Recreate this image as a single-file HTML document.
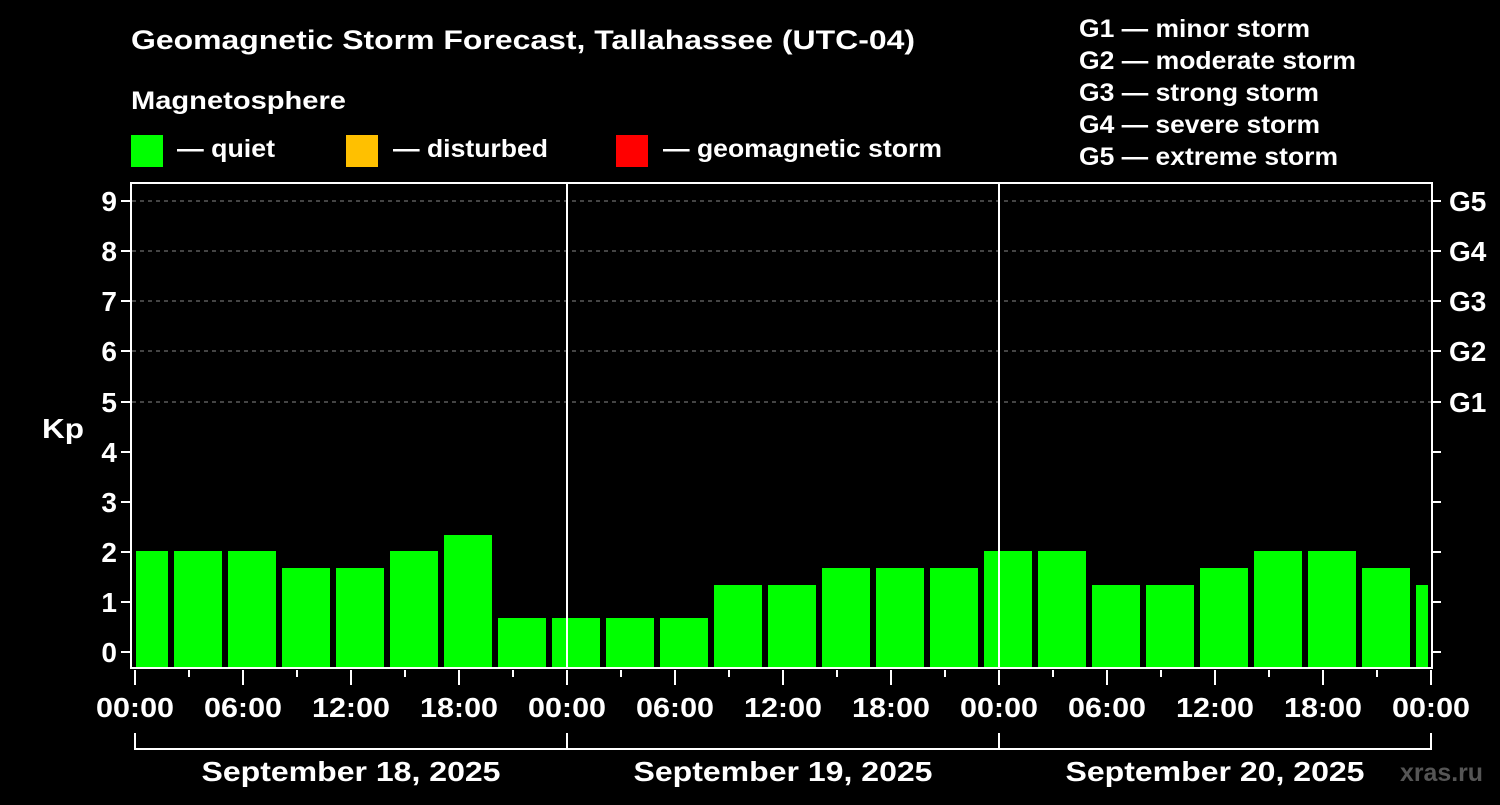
<!DOCTYPE html><html><head><style>body{margin:0;background:#000}svg text{font-family:"Liberation Sans",Arial,sans-serif;font-weight:bold;fill:#fff}</style></head><body>
<svg width="1500" height="800" xmlns="http://www.w3.org/2000/svg">
<rect width="1500" height="800" fill="#000"/>
<text x="131" y="49" font-size="27" textLength="784" lengthAdjust="spacingAndGlyphs">Geomagnetic Storm Forecast, Tallahassee (UTC-04)</text>
<text x="131" y="109" font-size="25" textLength="215" lengthAdjust="spacingAndGlyphs">Magnetosphere</text>
<rect x="131" y="135" width="32" height="32" fill="#00ff00"/><text x="177" y="157" font-size="25" textLength="98" lengthAdjust="spacingAndGlyphs">— quiet</text>
<rect x="346" y="135" width="32" height="32" fill="#ffc000"/><text x="393" y="157" font-size="25" textLength="155" lengthAdjust="spacingAndGlyphs">— disturbed</text>
<rect x="616" y="135" width="32" height="32" fill="#ff0000"/><text x="663" y="157" font-size="25" textLength="279" lengthAdjust="spacingAndGlyphs">— geomagnetic storm</text>
<g font-size="25"><text x="1079" y="37" textLength="231" lengthAdjust="spacingAndGlyphs">G1 — minor storm</text><text x="1079" y="69" textLength="277" lengthAdjust="spacingAndGlyphs">G2 — moderate storm</text><text x="1079" y="101" textLength="240" lengthAdjust="spacingAndGlyphs">G3 — strong storm</text><text x="1079" y="133" textLength="241" lengthAdjust="spacingAndGlyphs">G4 — severe storm</text><text x="1079" y="165" textLength="259" lengthAdjust="spacingAndGlyphs">G5 — extreme storm</text></g>
<g stroke="#888" stroke-width="1" stroke-dasharray="4,4">
<line x1="132" y1="201" x2="1431" y2="201"/><line x1="132" y1="251" x2="1431" y2="251"/><line x1="132" y1="301" x2="1431" y2="301"/><line x1="132" y1="351" x2="1431" y2="351"/><line x1="132" y1="402" x2="1431" y2="402"/></g>
<g fill="#00ff00">
<rect x="136" y="551" width="32" height="117"/>
<rect x="174" y="551" width="48" height="117"/><rect x="228" y="551" width="48" height="117"/><rect x="282" y="568" width="48" height="100"/><rect x="336" y="568" width="48" height="100"/><rect x="390" y="551" width="48" height="117"/><rect x="444" y="535" width="48" height="133"/><rect x="498" y="618" width="48" height="50"/>
<rect x="552" y="618" width="48" height="50"/><rect x="606" y="618" width="48" height="50"/><rect x="660" y="618" width="48" height="50"/><rect x="714" y="585" width="48" height="83"/><rect x="768" y="585" width="48" height="83"/><rect x="822" y="568" width="48" height="100"/><rect x="876" y="568" width="48" height="100"/><rect x="930" y="568" width="48" height="100"/>
<rect x="984" y="551" width="48" height="117"/><rect x="1038" y="551" width="48" height="117"/><rect x="1092" y="585" width="48" height="83"/><rect x="1146" y="585" width="48" height="83"/><rect x="1200" y="568" width="48" height="100"/><rect x="1254" y="551" width="48" height="117"/><rect x="1308" y="551" width="48" height="117"/><rect x="1362" y="568" width="48" height="100"/><rect x="1416" y="585" width="12" height="83"/>
</g>
<g stroke="#fff" stroke-width="2" fill="none">
<rect x="131" y="183" width="1301" height="485"/>
<line x1="567" y1="183" x2="567" y2="668"/><line x1="999" y1="183" x2="999" y2="668"/>
<path d="M121 652H131M121 602H131M121 552H131M121 502H131M121 452H131M121 402H131M121 351H131M121 301H131M121 251H131M121 201H131"/>
<path d="M1432 652H1441M1432 602H1441M1432 552H1441M1432 502H1441M1432 452H1441M1432 402H1441M1432 351H1441M1432 301H1441M1432 251H1441M1432 201H1441"/>
<path d="M135 670V685M243 670V685M351 670V685M459 670V685M567 670V685M675 670V685M783 670V685M891 670V685M999 670V685M1107 670V685M1215 670V685M1323 670V685M1431 670V685"/>
<path d="M189 670V677M297 670V677M405 670V677M513 670V677M621 670V677M729 670V677M837 670V677M945 670V677M1053 670V677M1161 670V677M1269 670V677M1377 670V677"/>
<path d="M135 733V749H1431V733M567 733V749M999 733V749"/>
</g>
<g font-size="28" text-anchor="end"><text x="117" y="662">0</text><text x="117" y="612">1</text><text x="117" y="562">2</text><text x="117" y="512">3</text><text x="117" y="462">4</text><text x="117" y="412">5</text><text x="117" y="361">6</text><text x="117" y="311">7</text><text x="117" y="261">8</text><text x="117" y="211">9</text></g>
<text x="42" y="438" font-size="28" textLength="42" lengthAdjust="spacingAndGlyphs">Kp</text>
<g font-size="28"><text x="1449" y="412">G1</text><text x="1449" y="361">G2</text><text x="1449" y="311">G3</text><text x="1449" y="261">G4</text><text x="1449" y="211">G5</text></g>
<g font-size="28" text-anchor="middle"><text x="135" y="717" textLength="78" lengthAdjust="spacingAndGlyphs">00:00</text><text x="243" y="717" textLength="78" lengthAdjust="spacingAndGlyphs">06:00</text><text x="351" y="717" textLength="78" lengthAdjust="spacingAndGlyphs">12:00</text><text x="459" y="717" textLength="78" lengthAdjust="spacingAndGlyphs">18:00</text><text x="567" y="717" textLength="78" lengthAdjust="spacingAndGlyphs">00:00</text><text x="675" y="717" textLength="78" lengthAdjust="spacingAndGlyphs">06:00</text><text x="783" y="717" textLength="78" lengthAdjust="spacingAndGlyphs">12:00</text><text x="891" y="717" textLength="78" lengthAdjust="spacingAndGlyphs">18:00</text><text x="999" y="717" textLength="78" lengthAdjust="spacingAndGlyphs">00:00</text><text x="1107" y="717" textLength="78" lengthAdjust="spacingAndGlyphs">06:00</text><text x="1215" y="717" textLength="78" lengthAdjust="spacingAndGlyphs">12:00</text><text x="1323" y="717" textLength="78" lengthAdjust="spacingAndGlyphs">18:00</text><text x="1431" y="717" textLength="78" lengthAdjust="spacingAndGlyphs">00:00</text>
<text x="351" y="781" textLength="299" lengthAdjust="spacingAndGlyphs">September 18, 2025</text><text x="783" y="781" textLength="299" lengthAdjust="spacingAndGlyphs">September 19, 2025</text><text x="1215" y="781" textLength="299" lengthAdjust="spacingAndGlyphs">September 20, 2025</text></g>
<text x="1483" y="781" font-size="25" text-anchor="end" textLength="83" lengthAdjust="spacingAndGlyphs" style="fill:#555">xras.ru</text>
</svg></body></html>
